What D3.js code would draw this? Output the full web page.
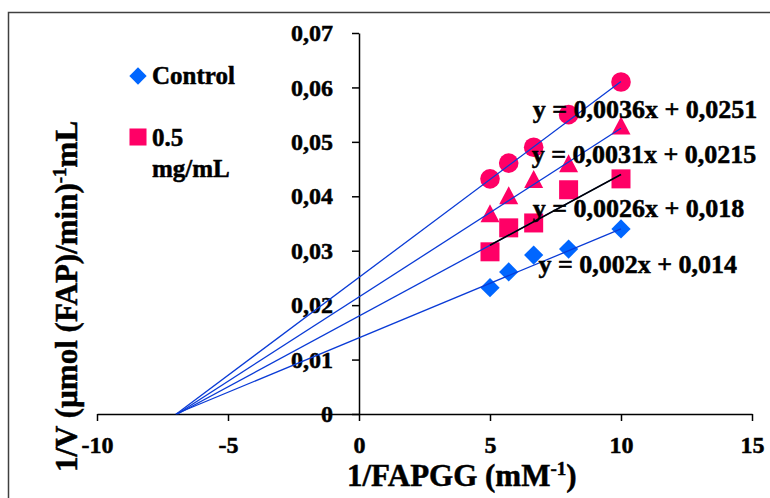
<!DOCTYPE html>
<html>
<head>
<meta charset="utf-8">
<script src="https://cdn.jsdelivr.net/npm/d3@7"></script>
<style>
  body { margin: 0; background: #fff; }
  text { font-family: "Liberation Serif", "Times New Roman", serif; font-weight: bold; stroke: #000; stroke-width: 0.5px; }
</style>
</head>
<body>
<svg width="770" height="498"></svg>
<script>
    'use strict';
    // 1/FAPGG values (mM-1)
    const xVals = [5, 5.714, 6.667, 8, 10];
    // 1/V values for each series
    const control = [0.0232, 0.0261, 0.0292, 0.0303, 0.034];
    const squares = [0.0298, 0.0342, 0.0351, 0.0412, 0.0432];
    const triangles = [0.0368, 0.0401, 0.0431, 0.046, 0.0529];
    const circles = [0.0432, 0.0461, 0.049, 0.055, 0.061];
    // trendlines, from the bottom one up
    const slopes = [0.002, 0.0026, 0.0031, 0.0036];
    const intercepts = [0.014, 0.018, 0.0215, 0.0251];
    const equations = ['y = 0,002x + 0,014', 'y = 0,0026x + 0,018', 'y = 0,0031x + 0,0215', 'y = 0,0036x + 0,0251'];
    const xTicks = [-10, -5, 0, 5, 10, 15];
    const yTicks = [0, 0.01, 0.02, 0.03, 0.04, 0.05, 0.06, 0.07];
    const legendNames = ['Control', '0.5', 'mg/mL'];

    const svg = d3.select('svg');
    const width = +svg.attr('width');
    const height = +svg.attr('height');

    const pink = '#ff0066';
    const lineBlue = '#0a3bd6';

    // outer frame, runs off the right and bottom edge
    svg.append('rect')
      .attr('x', 8.5).attr('y', 12.5)
      .attr('width', width + 20).attr('height', height + 20)
      .attr('fill', 'none')
      .attr('stroke', '#404040')
      .attr('stroke-width', 1.5);

    const x = d3.scaleLinear().domain([-10, 15]).range([97, 752]);
    const y = d3.scaleLinear().domain([0, 0.07]).range([414, 33]);

    const fmtY = d => d === 0 ? '0' : d3.format('.2f')(d).replace('.', ',');

    // y axis sits on x = 0
    const yAxis = svg.append('g')
      .attr('transform', `translate(${x(0)},0)`)
      .call(d3.axisLeft(y).tickValues(yTicks).tickFormat(fmtY).tickSize(7).tickPadding(19).tickSizeOuter(0));

    // x axis sits on y = 0
    const xAxis = svg.append('g')
      .attr('transform', `translate(0,${y(0)})`)
      .call(d3.axisBottom(x).tickValues(xTicks).tickFormat(d3.format('d')).tickSize(7).tickPadding(15).tickSizeOuter(0));

    [xAxis, yAxis].forEach(a => {
      a.selectAll('path, line').attr('stroke', '#000').attr('stroke-width', 1.5);
      a.selectAll('text').attr('fill', '#000').style('font-size', '24px');
    });
    xAxis.selectAll('text').text(d => d < 0 ? '-' + Math.abs(d) : d);

    // trendlines: back-extended to the x intercept
    const trend = slopes.map((m, i) => ({ m: m, b: intercepts[i], x0: -intercepts[i] / m, x1: 10 }));

    // markers
    const sq = d3.symbol().type(d3.symbolSquare);
    const triPath = 'M0,-9.5L9.5,8.5L-9.5,8.5Z';

    svg.selectAll('.ctrl')
      .data(xVals.map((v, i) => [v, control[i]]))
      .join('path')
      .attr('class', 'ctrl')
      .attr('d', sq.size(185)())
      .attr('transform', d => `translate(${x(d[0])},${y(d[1])}) rotate(45)`)
      .attr('fill', '#0066ff');

    svg.selectAll('.sq')
      .data(xVals.map((v, i) => [v, squares[i]]))
      .join('path')
      .attr('class', 'sq')
      .attr('d', sq.size(361)())
      .attr('transform', d => `translate(${x(d[0])},${y(d[1])})`)
      .attr('fill', pink);

    svg.selectAll('.tri')
      .data(xVals.map((v, i) => [v, triangles[i]]))
      .join('path')
      .attr('class', 'tri')
      .attr('d', triPath)
      .attr('transform', d => `translate(${x(d[0])},${y(d[1])})`)
      .attr('fill', pink);

    svg.selectAll('.circ')
      .data(xVals.map((v, i) => [v, circles[i]]))
      .join('circle')
      .attr('class', 'circ')
      .attr('cx', d => x(d[0])).attr('cy', d => y(d[1]))
      .attr('r', 9.8)
      .attr('fill', pink);

    svg.selectAll('.trend')
      .data(trend)
      .join('line')
      .attr('class', 'trend')
      .attr('x1', d => x(d.x0)).attr('y1', d => y(d.m * d.x0 + d.b))
      .attr('x2', d => x(d.x1)).attr('y2', d => y(d.m * d.x1 + d.b))
      .attr('stroke', lineBlue)
      .attr('stroke-width', 1.3);

    // the squares trendline is black over the data range
    const t2 = trend[1];
    svg.append('line')
      .attr('x1', x(xVals[0])).attr('y1', y(t2.m * xVals[0] + t2.b))
      .attr('x2', x(10)).attr('y2', y(t2.m * 10 + t2.b))
      .attr('stroke', '#000')
      .attr('stroke-width', 1.5);

    // equation labels (placed in data units)
    const eqAt = [[6.85, 0.0259], [6.63, 0.0362], [6.59, 0.0461], [6.63, 0.0544]];
    svg.selectAll('.eq')
      .data(equations)
      .join('text')
      .attr('class', 'eq')
      .attr('x', (d, i) => x(eqAt[i][0]))
      .attr('y', (d, i) => y(eqAt[i][1]))
      .style('font-size', '26px')
      .text(d => d);

    // legend
    svg.append('path')
      .attr('d', sq.size(150)())
      .attr('transform', 'translate(138,76) rotate(45)')
      .attr('fill', '#0066ff');
    svg.append('path')
      .attr('d', sq.size(290)())
      .attr('transform', 'translate(138,137)')
      .attr('fill', pink);
    svg.selectAll('.leg')
      .data(legendNames)
      .join('text')
      .attr('class', 'leg')
      .attr('x', 152)
      .attr('y', (d, i) => [84, 146, 177][i])
      .style('font-size', '25px')
      .text(d => d);

    // axis titles
    const xt = svg.append('text')
      .attr('x', 347).attr('y', 486)
      .style('font-size', '31px');
    xt.append('tspan').text('1/FAPGG (mM');
    xt.append('tspan').text('-1').attr('dy', -11).style('font-size', '19px');
    xt.append('tspan').text(')').attr('dy', 11);

    const yt = svg.append('text')
      .attr('transform', 'translate(77,472) rotate(-90)')
      .style('font-size', '31px');
    yt.append('tspan').text('1/V (µmol (FAP)/min)');
    yt.append('tspan').text('-1').attr('dy', -11).style('font-size', '19px');
    yt.append('tspan').text('mL').attr('dy', 11);
</script>
</body>
</html>
